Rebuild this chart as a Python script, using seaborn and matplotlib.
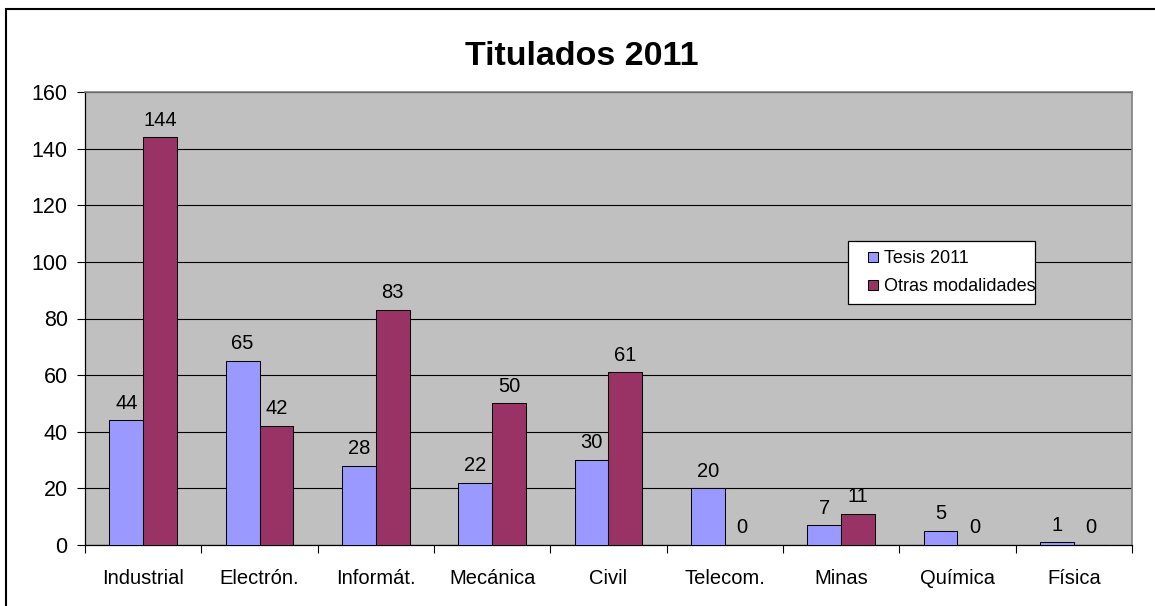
import numpy as np
import pandas as pd
import matplotlib
matplotlib.use("Agg")
import matplotlib.pyplot as plt
from matplotlib.patches import Rectangle
from matplotlib.lines import Line2D
import seaborn as sns

# datos
carreras = ["Industrial", "Electrón.", "Informát.", "Mecánica", "Civil",
            "Telecom.", "Minas", "Química", "Física"]
tesis_2011 = [44, 65, 28, 22, 30, 20, 7, 5, 1]
otras_modalidades = [144, 42, 83, 50, 61, 0, 11, 0, 0]
series = ["Tesis 2011", "Otras modalidades"]
colores = ["#9999FF", "#993366"]
y_ticks = [0, 20, 40, 60, 80, 100, 120, 140, 160]

df = pd.DataFrame({
    "carrera": carreras * 2,
    "titulados": tesis_2011 + otras_modalidades,
    "serie": [series[0]] * len(carreras) + [series[1]] * len(carreras),
})

sns.set_theme(style="white")
plt.rcParams["font.family"] = ["Liberation Sans", "DejaVu Sans"]
plt.rcParams["text.color"] = "black"
plt.rcParams["xtick.color"] = "black"
plt.rcParams["ytick.color"] = "black"
plt.rcParams["axes.labelcolor"] = "black"

fig = plt.figure(figsize=(11.55, 6.06), dpi=100)
fig.patch.set_facecolor("white")
ax = fig.add_axes([85 / 1155, 1 - 545 / 606, (1132 - 85) / 1155, (545 - 92) / 606])
ax.set_facecolor("#C0C0C0")
ax.set_axisbelow(True)

sns.barplot(data=df, x="carrera", y="titulados", hue="serie", order=carreras,
            hue_order=series, palette=colores, saturation=1, width=0.58, gap=0,
            edgecolor="black", linewidth=0.75, ax=ax, zorder=3, legend=False)

for cont in ax.containers:
    ax.bar_label(cont, labels=[f"{int(v)}" for v in cont.datavalues],
                 padding=5.5, fontsize=14.5, color="black")

ax.set_xlim(-0.5, len(carreras) - 0.5)
ax.set_ylim(0, 160)
ax.set_yticks(y_ticks)
ax.yaxis.grid(True, color="black", linewidth=0.8)
ax.xaxis.grid(False)
ax.set_xlabel("")
ax.set_ylabel("")

ax.set_xticks(np.arange(len(carreras)))
ax.set_xticklabels(carreras)
ax.set_xticks(np.arange(len(carreras) + 1) - 0.5, minor=True)
ax.tick_params(axis="x", which="major", length=0, pad=17, labelsize=14.5)
ax.tick_params(axis="x", which="minor", length=5.5, width=0.8, color="black",
               direction="out", bottom=True)
ax.tick_params(axis="y", which="major", length=5.5, width=0.8, color="black",
               direction="out", left=True, pad=7, labelsize=15.5)

for lado in ["left", "bottom"]:
    ax.spines[lado].set_color("black")
    ax.spines[lado].set_linewidth(0.9)
for lado in ["top", "right"]:
    ax.spines[lado].set_color("#808080")
    ax.spines[lado].set_linewidth(1.2)

# leyenda estilo excel: cuadradito pequeño con borde
handles = [Line2D([], [], linestyle="none", marker="s", markersize=7.5,
                  markerfacecolor=c, markeredgecolor="black", markeredgewidth=0.75)
           for c in colores]
leg = ax.legend(handles, series, loc="upper left",
                bbox_to_anchor=(848 / 1155, 1 - 303 / 606, (1035 - 848) / 1155, (303 - 241) / 606),
                bbox_transform=fig.transFigure, mode="expand",
                fontsize=13, frameon=True, fancybox=False, framealpha=1,
                handlelength=1.8, handletextpad=-0.3,
                borderpad=0.5, labelspacing=0.6, borderaxespad=0)
leg.get_frame().set_edgecolor("black")
leg.get_frame().set_linewidth(0.9)
leg.get_frame().set_facecolor("white")

fig.text(581.5 / 1155, 1 - 65 / 606, "Titulados 2011", ha="center",
         va="baseline", fontsize=24.5, fontweight="bold")

fig.patches.append(Rectangle((6 / 1155, -0.05), 1.1, 1 - 9 / 606 + 0.05,
                             transform=fig.transFigure, fill=False,
                             edgecolor="black", linewidth=1.5))

fig.savefig("out.png", dpi=100, facecolor="white")
